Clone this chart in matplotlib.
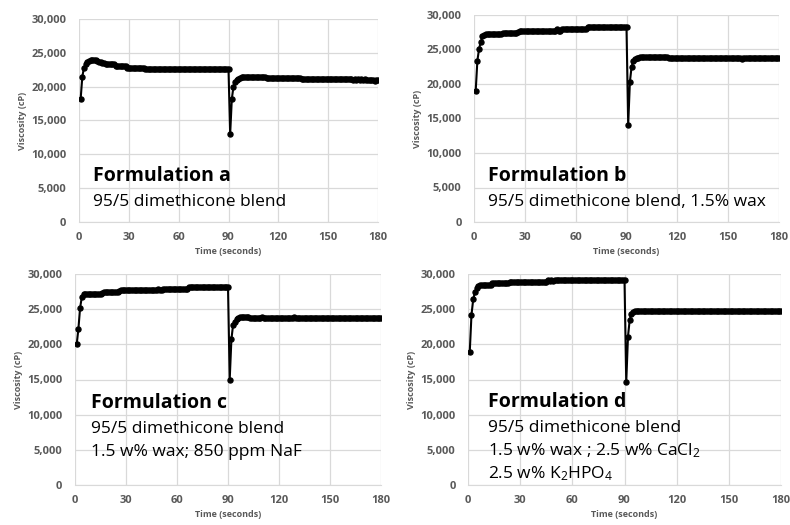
import matplotlib
matplotlib.use("Agg")
import matplotlib.pyplot as plt
from matplotlib.ticker import FuncFormatter

plt.rcParams['font.family'] = ['Open Sans', 'DejaVu Sans']
plt.rcParams['mathtext.fontset'] = 'custom'
plt.rcParams['mathtext.rm'] = 'Open Sans'
plt.rcParams['mathtext.default'] = 'regular'

# time axis: one reading per second, 1..180 s
time_s = list(range(1, 181))

# viscosity readings (cP), ten seconds per row
visc_a = [
    18200, 21500, 22800, 23300, 23600, 23800, 23900, 23900, 23900, 23900,
    23800, 23600, 23600, 23500, 23500, 23400, 23400, 23300, 23300, 23300,
    23300, 23100, 23100, 23100, 23100, 23100, 23100, 23000, 22800, 22800,
    22800, 22800, 22800, 22800, 22800, 22800, 22800, 22800, 22700, 22600,
    22600, 22600, 22600, 22600, 22600, 22600, 22600, 22600, 22600, 22600,
    22600, 22600, 22600, 22600, 22600, 22600, 22600, 22600, 22600, 22600,
    22600, 22600, 22600, 22600, 22600, 22600, 22600, 22600, 22600, 22600,
    22600, 22600, 22600, 22600, 22600, 22600, 22600, 22600, 22600, 22600,
    22600, 22600, 22600, 22600, 22600, 22600, 22600, 22600, 22600, 22600,
    13000, 18200, 20000, 20700, 21000, 21200, 21300, 21400, 21400, 21400,
    21400, 21400, 21400, 21400, 21400, 21400, 21400, 21400, 21400, 21400,
    21400, 21400, 21300, 21300, 21300, 21300, 21300, 21300, 21300, 21300,
    21300, 21300, 21300, 21300, 21300, 21300, 21300, 21300, 21300, 21300,
    21300, 21300, 21300, 21200, 21200, 21200, 21200, 21200, 21200, 21200,
    21200, 21200, 21200, 21200, 21200, 21200, 21200, 21200, 21200, 21200,
    21200, 21200, 21200, 21200, 21200, 21100, 21100, 21100, 21100, 21100,
    21100, 21100, 21100, 21100, 21000, 21100, 21000, 21100, 21000, 21100,
    21000, 21100, 21000, 21000, 21000, 21000, 21000, 20900, 21000, 21000,
]

visc_b = [
    19000, 23400, 25100, 26100, 26900, 27100, 27200, 27200, 27200, 27200,
    27200, 27200, 27200, 27200, 27200, 27300, 27400, 27400, 27400, 27400,
    27400, 27400, 27400, 27400, 27400, 27600, 27700, 27700, 27700, 27700,
    27700, 27700, 27700, 27700, 27700, 27700, 27700, 27700, 27700, 27700,
    27700, 27700, 27700, 27700, 27700, 27700, 27700, 27700, 28000, 27700,
    27700, 27900, 27900, 27900, 27900, 27900, 27900, 27900, 27900, 27900,
    27900, 27900, 27900, 27900, 27900, 27900, 28200, 28200, 28200, 28200,
    28200, 28200, 28200, 28200, 28200, 28200, 28200, 28200, 28200, 28200,
    28200, 28200, 28200, 28200, 28200, 28200, 28200, 28200, 28200, 28200,
    14100, 20300, 22500, 23300, 23600, 23700, 23800, 23900, 23900, 23900,
    23900, 23900, 23900, 23900, 23900, 23900, 23900, 23900, 23900, 23900,
    23900, 23900, 23900, 23900, 23800, 23800, 23800, 23800, 23800, 23700,
    23700, 23700, 23800, 23700, 23700, 23700, 23700, 23800, 23700, 23700,
    23700, 23800, 23700, 23700, 23700, 23800, 23700, 23700, 23700, 23700,
    23700, 23800, 23700, 23700, 23700, 23700, 23700, 23800, 23700, 23700,
    23700, 23700, 23700, 23700, 23700, 23700, 23700, 23600, 23700, 23700,
    23700, 23700, 23700, 23700, 23700, 23800, 23700, 23700, 23700, 23700,
    23700, 23700, 23700, 23700, 23700, 23700, 23700, 23700, 23700, 23700,
]

visc_c = [
    20000, 22200, 25200, 26700, 27100, 27200, 27200, 27200, 27200, 27200,
    27200, 27200, 27200, 27200, 27200, 27300, 27400, 27400, 27400, 27400,
    27400, 27400, 27400, 27400, 27400, 27600, 27700, 27700, 27700, 27700,
    27700, 27700, 27700, 27700, 27700, 27700, 27700, 27700, 27700, 27700,
    27700, 27700, 27700, 27700, 27700, 27700, 27700, 27700, 27900, 27700,
    27700, 27900, 27900, 27900, 27900, 27900, 27900, 27900, 27900, 27900,
    27900, 27900, 27900, 27900, 27900, 27900, 28200, 28200, 28200, 28200,
    28200, 28200, 28200, 28200, 28200, 28200, 28200, 28200, 28200, 28200,
    28200, 28200, 28200, 28200, 28200, 28200, 28200, 28200, 28200, 28200,
    15000, 20700, 22800, 23200, 23600, 23800, 23900, 23900, 23900, 23900,
    23900, 23900, 23800, 23800, 23800, 23800, 23800, 23800, 23800, 23900,
    23800, 23800, 23800, 23800, 23800, 23800, 23800, 23700, 23700, 23800,
    23800, 23800, 23800, 23700, 23700, 23800, 23800, 23800, 23900, 23800,
    23800, 23700, 23800, 23800, 23800, 23700, 23700, 23800, 23800, 23800,
    23700, 23700, 23800, 23800, 23800, 23800, 23700, 23700, 23700, 23800,
    23800, 23800, 23700, 23700, 23700, 23800, 23800, 23800, 23700, 23700,
    23700, 23800, 23800, 23700, 23700, 23700, 23800, 23800, 23700, 23700,
    23800, 23800, 23800, 23700, 23700, 23800, 23800, 23800, 23700, 23700,
]

visc_d = [
    18900, 24200, 26400, 27400, 28000, 28300, 28500, 28500, 28500, 28500,
    28500, 28500, 28500, 28700, 28700, 28700, 28700, 28700, 28700, 28700,
    28700, 28700, 28700, 28900, 28900, 28900, 28900, 28900, 28900, 28900,
    28900, 28900, 28900, 28900, 28900, 28900, 28900, 28900, 28900, 28900,
    28900, 28900, 28900, 28900, 28900, 29100, 29000, 29100, 29000, 29100,
    29200, 29200, 29200, 29200, 29200, 29200, 29200, 29200, 29200, 29200,
    29200, 29200, 29200, 29200, 29200, 29200, 29200, 29200, 29200, 29200,
    29200, 29200, 29200, 29200, 29200, 29200, 29200, 29200, 29200, 29200,
    29200, 29200, 29200, 29200, 29200, 29200, 29200, 29200, 29200, 29200,
    14600, 21100, 23500, 24300, 24600, 24700, 24800, 24800, 24800, 24800,
    24800, 24800, 24800, 24800, 24800, 24800, 24800, 24800, 24800, 24800,
    24800, 24800, 24800, 24800, 24800, 24800, 24800, 24800, 24800, 24800,
    24800, 24800, 24800, 24700, 24700, 24700, 24800, 24800, 24800, 24800,
    24800, 24800, 24800, 24800, 24700, 24700, 24700, 24700, 24800, 24800,
    24800, 24800, 24800, 24800, 24800, 24800, 24700, 24700, 24800, 24800,
    24800, 24800, 24800, 24800, 24800, 24800, 24700, 24800, 24800, 24800,
    24800, 24800, 24800, 24800, 24800, 24800, 24700, 24800, 24800, 24800,
    24800, 24800, 24800, 24800, 24800, 24700, 24700, 24800, 24800, 24800,
]

titles = ["Formulation a", "Formulation b", "Formulation c", "Formulation d"]
notes = [
    ["95/5 dimethicone blend"],
    ["95/5 dimethicone blend, 1.5% wax"],
    ["95/5 dimethicone blend", "1.5 w% wax; 850 ppm NaF"],
    ["95/5 dimethicone blend", "1.5 w% wax ; 2.5 w% CaCl$_2$",
     "2.5 w% K$_2$HPO$_4$"],
]
x_ticks = [0, 30, 60, 90, 120, 150, 180]
y_ticks = [0, 5000, 10000, 15000, 20000, 25000, 30000]

W, H = 790, 525
# axes boxes in pixels: left, top, right, bottom
boxes = [(79, 19, 378, 222), (474, 15, 779, 222),
         (75, 274, 381, 485), (468, 274, 781, 485)]
# text anchor in pixels: left x, y of title centre
text_pos = [(93, 176), (488, 176), (91, 403), (488, 402)]

fig = plt.figure(figsize=(W / 100, H / 100), dpi=100)
grey = "#595959"
grid_c = "#d9d9d9"

for i, visc in enumerate([visc_a, visc_b, visc_c, visc_d]):
    l, t, r, b = boxes[i]
    ax = fig.add_axes([l / W, 1 - b / H, (r - l) / W, (b - t) / H])
    ax.plot(time_s, visc, color="black", lw=1.5, marker="o", ms=3.6)
    ax.set_xlim(0, 180)
    ax.set_ylim(0, 30000)
    ax.set_xticks(x_ticks)
    ax.set_yticks(y_ticks)
    ax.yaxis.set_major_formatter(FuncFormatter(lambda v, p: f"{int(v):,}"))
    ax.grid(True, color=grid_c, lw=0.9)
    ax.set_axisbelow(True)
    for s in ["top", "right", "left"]:
        ax.spines[s].set_visible(False)
    ax.spines["bottom"].set_color(grid_c)
    ax.tick_params(axis="y", length=0, labelsize=8, labelcolor=grey, pad=9)
    ax.tick_params(axis="x", length=0, labelsize=8, labelcolor=grey, pad=7)
    for lab in ax.get_xticklabels() + ax.get_yticklabels():
        lab.set_fontweight("bold")
    ax.set_xlabel("Time (seconds)", fontsize=6.5, fontweight="bold",
                  color=grey, labelpad=3)
    ax.set_ylabel("Viscosity (cP)", fontsize=6.5, fontweight="bold",
                  color=grey, labelpad=3)

    tx, ty = text_pos[i]
    fig.text(tx / W, 1 - ty / H, titles[i], fontsize=14, fontweight="bold",
             va="center", ha="left")
    for j, line in enumerate(notes[i]):
        fig.text(tx / W, 1 - (ty + 26 + 23 * j) / H, line, fontsize=12.5,
                 va="center", ha="left")

fig.savefig("out.png", dpi=100)
